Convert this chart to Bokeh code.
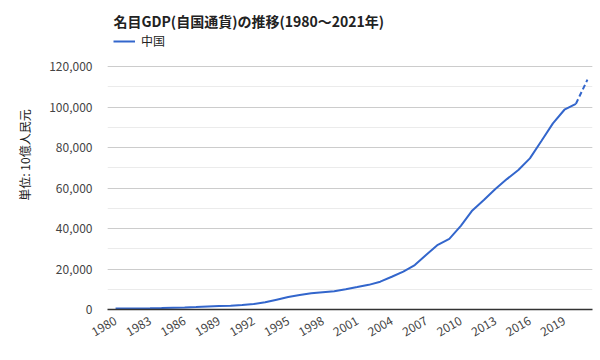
from bokeh.plotting import figure
from bokeh.models import (ColumnDataSource, NumeralTickFormatter, FixedTicker, Legend, LegendItem, Range1d, Label)
from bokeh.embed import file_html
from bokeh.resources import INLINE

years = list(range(1980, 2022))
gdp = [458.8, 493.6, 537.3, 602.0, 727.9, 901.6, 1027.5, 1205.9, 1504.3, 1699.2,
       1887.3, 2200.6, 2719.5, 3567.3, 4863.8, 6133.9, 7181.4, 7971.5, 8519.6, 9056.4,
       10028.0, 11086.3, 12171.7, 13742.2, 16184.0, 18731.9, 21943.9, 27023.2, 31951.6, 34908.1,
       41303.0, 48930.1, 54036.7, 59524.4, 64397.4, 68885.8, 74639.5, 83203.6, 91928.1, 98651.5,
       101598.6, 113500.0]
x_ticks = list(range(1980, 2020, 3))
y_ticks = [0, 20000, 40000, 60000, 80000, 100000, 120000]
y_minor = list(range(0, 120001, 10000))
title_text = "名目GDP(自国通貨)の推移(1980〜2021年)"
series_name = "中国"
y_label = "単位: 10億人民元"

FONT = "Noto Sans CJK JP"

# layout (page pixels)
W, H = 600, 360
FRAME_LEFT = 107
FRAME_RIGHT = 592
FRAME_BOTTOM = 309
PLOT_TOP = 66          # where 120,000 sits
YMAX = 120000
y_end = YMAX + PLOT_TOP * YMAX / (FRAME_BOTTOM - PLOT_TOP)

solid = ColumnDataSource(dict(x=years[:41], y=gdp[:41]))
dashed = ColumnDataSource(dict(x=years[40:], y=gdp[40:]))

p = figure(width=W, height=H, output_backend="svg", toolbar_location=None,
           x_range=Range1d(1979.3, 2021.44), y_range=Range1d(0, y_end),
           min_border_left=FRAME_LEFT, min_border_right=W - FRAME_RIGHT, min_border_top=0,
           min_border_bottom=H - FRAME_BOTTOM)
p.outline_line_color = None
p.background_fill_color = "white"

r1 = p.line("x", "y", source=solid, line_color="#3366cc", line_width=2)
p.line("x", "y", source=dashed, line_color="#3366cc", line_width=2, line_dash="5 3")

title = Label(x=6, y=FRAME_BOTTOM - 20, x_units="screen", y_units="screen", text=title_text,
              text_font=FONT, text_font_size="14px", text_font_style="bold",
              text_color="#222222", text_baseline="middle", text_align="left")
p.add_layout(title)

legend = Legend(items=[LegendItem(label=series_name, renderers=[r1])], orientation="horizontal",
                location=(6, FRAME_BOTTOM - 43 - 6),
                label_text_font=FONT, label_text_font_size="12px", label_text_color="#222222",
                border_line_color=None, background_fill_alpha=0, padding=0, margin=0,
                glyph_width=22, glyph_height=12, label_standoff=6, label_height=12)
p.add_layout(legend, "center")

p.xaxis.ticker = FixedTicker(ticks=x_ticks)
p.xaxis.major_label_orientation = 0.52
p.xaxis.major_label_standoff = 4
p.xaxis.major_tick_line_color = None
p.xaxis.minor_tick_line_color = None
p.xaxis.axis_line_color = "#333333"
p.xaxis.axis_line_width = 1.5
p.xaxis.major_label_text_font = FONT
p.xaxis.major_label_text_font_size = "12px"
p.xaxis.major_label_text_color = "#444444"
p.xgrid.grid_line_color = None

p.yaxis.ticker = FixedTicker(ticks=y_ticks, minor_ticks=y_minor)
p.yaxis.bounds = (0, YMAX)
p.yaxis.formatter = NumeralTickFormatter(format="0,0")
p.yaxis.axis_line_color = None
p.yaxis.major_tick_line_color = None
p.yaxis.minor_tick_line_color = None
p.yaxis.major_label_standoff = 9
p.yaxis.major_label_text_font = FONT
p.yaxis.major_label_text_font_size = "12px"
p.yaxis.major_label_text_color = "#444444"
p.yaxis.axis_label = y_label
p.yaxis.axis_label_text_font = FONT
p.yaxis.axis_label_text_font_size = "12px"
p.yaxis.axis_label_text_font_style = "normal"
p.yaxis.axis_label_text_color = "#222222"
p.yaxis.axis_label_standoff = 13
p.ygrid.grid_line_color = "#cccccc"
p.ygrid.minor_grid_line_color = "#ebebeb"

open("out.html", "w").write(file_html(p, INLINE))
